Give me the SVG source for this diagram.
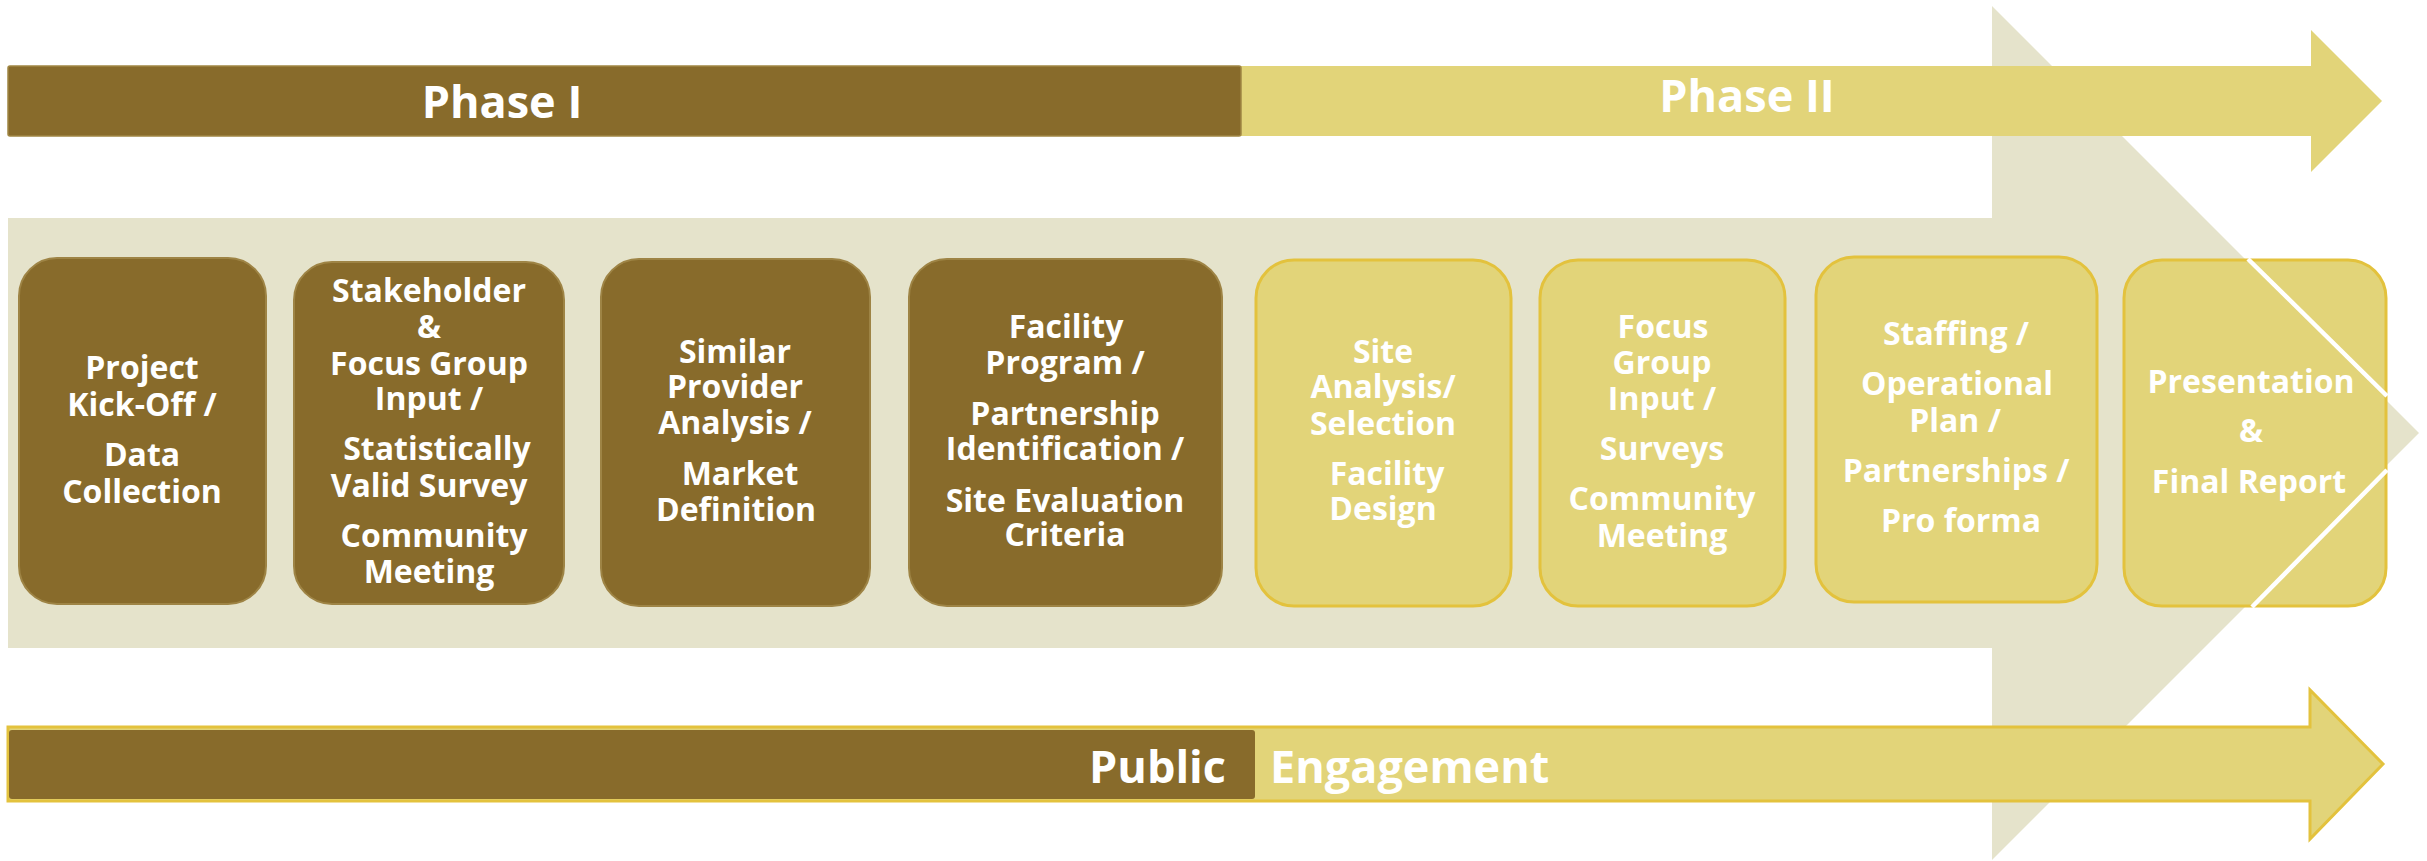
<svg xmlns="http://www.w3.org/2000/svg" width="2427" height="861" viewBox="0 0 2427 861">
<style>
.bg{fill:#E5E3CB}
.p1{fill:#886B2B;stroke:#9E8445;stroke-width:2}
.p2{fill:#E2D479;stroke:#E3C23D;stroke-width:3}
.t{font-family:"Open Sans","Liberation Sans",sans-serif;font-weight:bold;fill:#FFFFFF;text-anchor:middle;font-size:32px}
.big{font-family:"Open Sans","Liberation Sans",sans-serif;font-weight:bold;fill:#FFFFFF;font-size:45px}
</style>
<rect width="2427" height="861" fill="#FFFFFF"/>
<g id="background-arrow">
<polygon class="bg" points="8,218 1992,218 1992,6 2419,433 1992,860 1992,648 8,648"/>
</g>
<g id="phase-bar">
<polygon points="8,66 2311,66 2311,30 2382,101 2311,172 2311,136 8,136" fill="#E2D479"/>
<rect x="8" y="66" width="1233" height="70" rx="2" fill="#886B2B" stroke="#A08744" stroke-width="1.5"/>
<text class="big" x="502" y="118" text-anchor="middle">Phase I</text>
<text class="big" x="1747" y="112" text-anchor="middle">Phase II</text>
</g>
<g id="engagement-bar">
<polygon points="8,727 2310,727 2310,690 2383,764 2310,839 2310,801 8,801" fill="#E2D479" stroke="#E3C23D" stroke-width="3"/>
<rect x="9" y="730" width="1246" height="69" rx="3" fill="#886B2B"/>
<text class="big" x="1226" y="783" text-anchor="end">Public</text>
<text class="big" x="1270" y="783">Engagement</text>
</g>
<g id="node1">
<rect class="p1" x="19" y="258" width="247" height="346" rx="38"/>
<text class="t"><tspan x="142" y="379">Project</tspan><tspan x="142" y="416">Kick-Off /</tspan><tspan x="142" y="466">Data</tspan><tspan x="142" y="503">Collection</tspan></text>
</g>
<g id="node2">
<rect class="p1" x="294" y="262" width="270" height="342" rx="38"/>
<text class="t"><tspan x="429" y="302">Stakeholder</tspan><tspan x="429" y="338">&amp;</tspan><tspan x="429" y="375">Focus Group</tspan><tspan x="429" y="410">Input /</tspan><tspan x="437" y="460">Statistically</tspan><tspan x="429" y="497">Valid Survey</tspan><tspan x="434" y="547">Community</tspan><tspan x="429" y="583">Meeting</tspan></text>
</g>
<g id="node3">
<rect class="p1" x="601" y="259" width="269" height="347" rx="38"/>
<text class="t"><tspan x="735" y="363">Similar</tspan><tspan x="735" y="398">Provider</tspan><tspan x="735" y="434">Analysis /</tspan><tspan x="740" y="485">Market</tspan><tspan x="736" y="521">Definition</tspan></text>
</g>
<g id="node4">
<rect class="p1" x="909" y="259" width="313" height="347" rx="38"/>
<text class="t"><tspan x="1066" y="338">Facility</tspan><tspan x="1065" y="374">Program /</tspan><tspan x="1065" y="425">Partnership</tspan><tspan x="1065" y="460">Identification /</tspan><tspan x="1065" y="512">Site Evaluation</tspan><tspan x="1065" y="546">Criteria</tspan></text>
</g>
<g id="node5">
<rect class="p2" x="1256" y="260" width="255" height="346" rx="38"/>
<text class="t"><tspan x="1383" y="363">Site</tspan><tspan x="1383" y="398">Analysis/</tspan><tspan x="1383" y="435">Selection</tspan><tspan x="1387" y="485">Facility</tspan><tspan x="1383" y="520">Design</tspan></text>
</g>
<g id="node6">
<rect class="p2" x="1540" y="260" width="245" height="346" rx="38"/>
<text class="t"><tspan x="1663" y="338">Focus</tspan><tspan x="1662" y="374">Group</tspan><tspan x="1662" y="410">Input /</tspan><tspan x="1662" y="460">Surveys</tspan><tspan x="1662" y="510">Community</tspan><tspan x="1662" y="547">Meeting</tspan></text>
</g>
<g id="node7">
<rect class="p2" x="1816" y="257" width="281" height="345" rx="38"/>
<text class="t"><tspan x="1956" y="345">Staffing /</tspan><tspan x="1957" y="395">Operational</tspan><tspan x="1955" y="432">Plan /</tspan><tspan x="1956" y="482">Partnerships /</tspan><tspan x="1961" y="532">Pro forma</tspan></text>
</g>
<g id="node8">
<rect class="p2" x="2124" y="260" width="262" height="346" rx="38"/>
<text class="t"><tspan x="2251" y="393">Presentation</tspan><tspan x="2251" y="442">&amp;</tspan><tspan x="2249" y="493">Final Report</tspan></text>
</g>
<g id="connectors">
<line x1="2248" y1="259" x2="2387" y2="396" stroke="#FFFFFF" stroke-width="4.5"/>
<line x1="2387" y1="470" x2="2252" y2="607" stroke="#FFFFFF" stroke-width="4.5"/>
</g>
</svg>
